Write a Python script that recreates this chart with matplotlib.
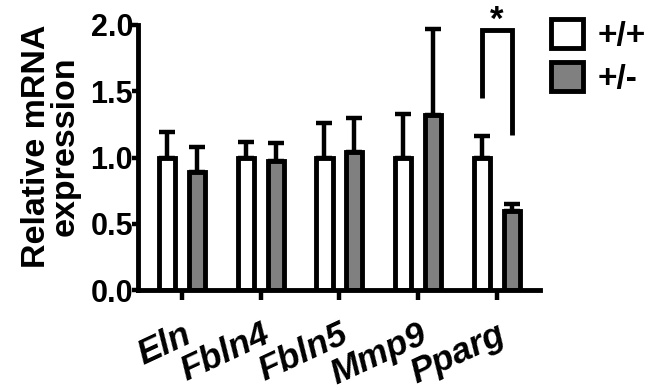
import matplotlib
matplotlib.use("Agg")
import matplotlib.pyplot as plt
from matplotlib.patches import Patch
from matplotlib.transforms import ScaledTranslation
import numpy as np

plt.rcParams['font.family'] = ['Liberation Sans', 'DejaVu Sans']
plt.rcParams['font.weight'] = 'bold'

genes = ["Eln", "Fbln4", "Fbln5", "Mmp9", "Pparg"]
wt_mean = [1.0, 1.0, 1.0, 1.0, 1.0]
wt_sem = [0.19, 0.12, 0.26, 0.33, 0.16]
het_mean = [0.89, 0.97, 1.04, 1.32, 0.60]
het_sem = [0.19, 0.14, 0.26, 0.65, 0.05]
series_labels = ["+/+", "+/-"]
yticks = [0.0, 0.5, 1.0, 1.5, 2.0]
ytick_labels = ["0.0", "0.5", "1.0", "1.5", "2.0"]
sig_gene = "Pparg"
sig_y = [1.45, 1.96, 1.96, 1.17]
sig_text = "*"

W, H = 651, 390
fig = plt.figure(figsize=(W / 100, H / 100), dpi=100)
ax = fig.add_axes([138 / W, 1 - 290 / H, (540 - 138) / W, 265 / H])

x = np.arange(len(genes))
off = 0.19
bw = 0.205
lw = 3.5
ax.bar(x - off, wt_mean, bw, color="white", edgecolor="black", linewidth=lw, zorder=2)
ax.bar(x + off, het_mean, bw, color="#808080", edgecolor="black", linewidth=lw, zorder=2)
z = np.zeros(len(genes))
for xs, m, e in [(x - off, wt_mean, wt_sem), (x + off, het_mean, het_sem)]:
    ax.errorbar(xs, m, yerr=[z, e], fmt="none", ecolor="black",
                elinewidth=3.2, capsize=5.5, capthick=3.2, zorder=1, clip_on=False)

gi = genes.index(sig_gene)
ax.plot([gi - off, gi - off, gi + off, gi + off], sig_y, color="black", lw=3.5,
        clip_on=False, solid_joinstyle="miter", solid_capstyle="butt")
ax.text(gi, 1.96, sig_text, ha="center", va="baseline", fontsize=25,
        fontweight="bold", clip_on=False)

ax.set_xlim(-0.56, 4.55)
ax.set_ylim(0, 2.0)
ax.set_yticks(yticks)
ax.set_yticklabels(ytick_labels, fontsize=22, fontweight="bold")
ax.set_xticks(x)
ax.set_xticklabels(genes, fontsize=25.5, fontweight="bold", fontstyle="italic",
                   rotation=25, ha="right", va="top", rotation_mode="anchor")
shift = ScaledTranslation(0.03, 0, fig.dpi_scale_trans)
for lab in ax.get_xticklabels():
    lab.set_transform(lab.get_transform() + shift)
for s in ["top", "right"]:
    ax.spines[s].set_visible(False)
for s in ["left", "bottom"]:
    ax.spines[s].set_linewidth(3.5)
ax.tick_params(axis="both", direction="out", width=3.2, color="black")
ax.tick_params(axis="x", length=7, pad=13)
ax.tick_params(axis="y", length=4, pad=-0.5)
ax.set_ylabel("Relative mRNA\nexpression", fontsize=24.5, fontweight="bold",
              linespacing=0.92)
ax.yaxis.set_label_coords(-0.142, 0.543)

handles = [Patch(facecolor="white", edgecolor="black", linewidth=3.5),
           Patch(facecolor="#808080", edgecolor="black", linewidth=3.5)]
fig.legend(handles, series_labels, loc="upper left", bbox_to_anchor=(551 / W, 1 - 19 / H),
           frameon=False, fontsize=24, handlelength=0.95, handleheight=0.95,
           handletextpad=0.45, labelspacing=0.3, borderaxespad=0, borderpad=0)

fig.savefig("out.png", dpi=100)
